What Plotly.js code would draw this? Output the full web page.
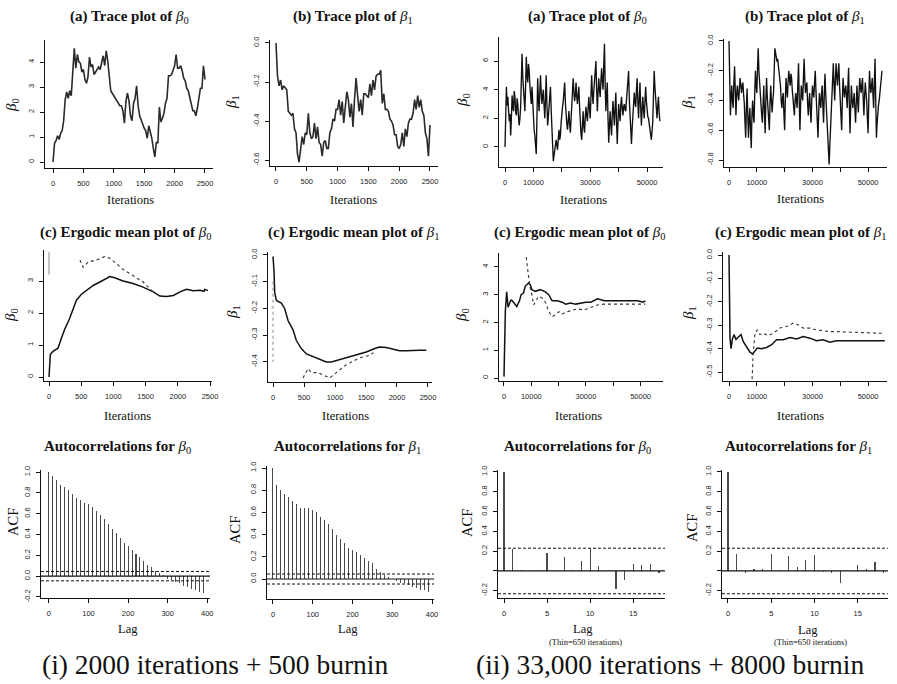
<!DOCTYPE html>
<html>
<head>
<meta charset="utf-8">
<script src="https://cdn.plot.ly/plotly-3.0.1.min.js"></script>
<style>
  html, body { margin: 0; padding: 0; background: #fff; }
  #chart { width: 897px; height: 684px; }
</style>
</head>
<body>
<div id="chart"></div>
<script>
// ---------------- MCMC output: run (i) 2000 iterations + 500 burn-in ----------------
const traceStepI = 25;   // iterations between stored draws
const beta0TraceI = [0.0,0.75,0.85,1.05,0.9,1.15,1.25,1.65,2.5,2.8,2.55,2.85,2.65,3.7,4.55,3.75,4.3,4.0,3.95,3.6,
  3.7,3.3,3.15,3.4,4.2,3.8,3.9,3.5,3.6,3.75,3.8,3.7,4.05,4.25,3.85,4.45,4.05,3.45,2.85,2.75,
  2.65,2.55,2.45,2.35,2.25,2.25,2.05,1.55,2.45,2.75,2.45,1.85,1.65,2.35,2.55,3.05,2.25,1.85,1.65,1.55,
  1.35,1.25,0.95,1.45,1.25,0.95,0.55,0.2,0.8,0.75,2.2,1.6,1.75,1.95,2.35,2.55,3.45,3.45,3.5,3.65,
  3.85,4.3,3.75,3.75,3.85,3.65,3.35,3.25,2.95,2.85,2.55,2.35,2.05,2.05,1.85,2.15,2.55,2.95,2.95,3.85,3.3];
const beta1TraceI = [0.0,-0.17,-0.22,-0.19,-0.24,-0.22,-0.23,-0.24,-0.35,-0.36,-0.37,-0.36,-0.44,-0.46,-0.57,-0.61,-0.54,-0.48,-0.52,-0.46,
  -0.47,-0.36,-0.46,-0.49,-0.48,-0.41,-0.49,-0.43,-0.51,-0.52,-0.58,-0.51,-0.5,-0.54,-0.54,-0.46,-0.44,-0.39,-0.4,-0.34,
  -0.34,-0.29,-0.37,-0.3,-0.41,-0.31,-0.25,-0.29,-0.38,-0.31,-0.43,-0.29,-0.18,-0.27,-0.35,-0.29,-0.37,-0.26,-0.26,-0.27,
  -0.28,-0.21,-0.27,-0.19,-0.24,-0.17,-0.16,-0.16,-0.14,-0.31,-0.26,-0.34,-0.34,-0.35,-0.39,-0.4,-0.42,-0.47,-0.47,-0.53,
  -0.54,-0.52,-0.46,-0.53,-0.44,-0.48,-0.41,-0.39,-0.39,-0.36,-0.29,-0.34,-0.27,-0.33,-0.29,-0.35,-0.37,-0.46,-0.49,-0.58,-0.42];

// ergodic (running) means, run (i)
const ergIterB0I = [0,20,60,140,190,245,320,375,425,500,580,685,790,890,945,1020,1150,1305,1460,1620,1720,1825,1930,2035,2135,2240,2345,2405,2420,2470];
const ergB0I     = [0,0.7,0.8,0.9,1.2,1.5,1.83,2.14,2.4,2.58,2.7,2.86,2.97,3.09,3.14,3.1,3.0,2.92,2.81,2.66,2.53,2.52,2.55,2.66,2.74,2.7,2.71,2.68,2.74,2.7];
const ergIterB0Ib = [480,530,605,685,790,865,945,1020,1150,1305,1460,1565,1620];
const ergB0Ib     = [3.66,3.43,3.59,3.64,3.69,3.77,3.71,3.59,3.36,3.17,2.97,2.76,2.66];
const ergStartB0I = [3.2,3.9];
const ergIterB1I = [0,16,27,54,134,188,242,323,376,457,538,645,753,860,941,1022,1183,1344,1505,1640,1720,1828,1935,2043,2150,2258,2366,2473];
const ergB1I     = [-0.006,-0.06,-0.14,-0.17,-0.18,-0.2,-0.245,-0.28,-0.32,-0.35,-0.37,-0.38,-0.39,-0.4,-0.4,-0.395,-0.385,-0.375,-0.363,-0.35,-0.344,-0.346,-0.353,-0.358,-0.358,-0.356,-0.356,-0.356];
const ergIterB1Ib = [484,565,618,726,914,1022,1183,1398,1559,1620];
const ergB1Ib     = [-0.46,-0.425,-0.44,-0.44,-0.46,-0.44,-0.41,-0.385,-0.375,-0.365];
const ergStartB1I = [-0.1,-0.4];

// autocorrelations, run (i)
const acfLagsI = [0,10,20,30,40,50,60,70,80,90,100,110,120,130,140,150,160,170,180,190,
  200,210,220,230,240,250,260,270,280,290,300,310,320,330,340,350,360,370,380,390];
const acfB0I = [1.0,0.96,0.92,0.88,0.86,0.83,0.79,0.75,0.73,0.7,0.69,0.66,0.63,0.59,0.55,0.5,0.45,0.41,0.37,0.32,
  0.29,0.25,0.21,0.18,0.15,0.11,0.09,0.05,0.03,0.01,-0.03,-0.04,-0.06,-0.07,-0.09,-0.1,-0.12,-0.13,-0.15,-0.16];
const acfB1I = [1.0,0.85,0.8,0.77,0.74,0.7,0.68,0.64,0.64,0.64,0.62,0.6,0.56,0.53,0.5,0.45,0.4,0.36,0.32,0.28,
  0.26,0.24,0.22,0.19,0.16,0.14,0.09,0.06,0.04,0.02,0.0,-0.02,-0.04,-0.04,-0.05,-0.07,-0.08,-0.1,-0.1,-0.12];
const ciI = 0.045;

// ---------------- MCMC output: run (ii) 33,000 iterations + 8000 burn-in ----------------
const traceStepII = 250;
const beta0TraceII = [0.0,2.6,4.2,2.9,3.5,2.6,1.8,2.3,0.8,2.0,3.6,2.8,2.5,3.9,3.5,2.4,2.2,3.4,3.0,2.1,
  1.5,2.0,2.8,4.6,6.5,4.9,4.0,3.1,2.5,4.2,6.3,5.0,4.5,5.8,5.4,4.3,3.5,3.0,4.2,2.9,
  1.8,1.2,0.8,0.3,-0.5,2.2,4.8,3.4,2.5,3.8,5.0,3.8,3.0,3.6,4.0,2.9,2.0,3.3,5.0,3.0,
  1.5,2.1,3.0,3.5,4.2,2.6,1.5,0.4,-1.0,-0.6,-0.3,0.2,0.5,0.1,-0.2,0.6,1.2,0.5,0.8,1.7,
  2.5,2.8,3.2,3.9,4.5,3.1,2.0,1.6,1.2,1.9,2.5,1.6,1.0,1.9,2.8,3.9,4.8,3.8,3.2,3.6,
  4.5,3.5,3.0,3.7,4.2,2.8,1.5,0.9,0.5,1.6,2.5,1.4,1.0,2.1,2.8,2.2,1.8,2.7,3.5,2.6,
  2.0,3.6,5.0,3.7,3.0,3.9,4.5,5.1,6.0,4.0,2.5,3.8,4.8,4.0,3.5,4.6,5.5,4.6,4.0,5.7,
  7.2,4.3,2.5,3.6,4.5,2.0,0.3,1.5,2.5,1.5,0.8,2.2,3.2,2.3,1.5,2.8,3.8,1.8,0.2,1.7,
  3.0,2.3,1.8,2.9,3.5,2.7,2.2,2.8,3.0,2.6,2.5,3.3,4.2,4.8,5.3,3.3,2.0,0.9,0.2,1.3,
  2.5,3.3,3.8,3.1,2.8,3.9,4.8,3.2,2.0,3.3,4.5,2.8,1.5,2.6,3.5,2.6,2.0,3.2,4.2,3.2,
  2.5,2.1,2.0,1.5,1.2,0.7,0.5,1.1,1.8,3.6,5.3,4.2,3.5,2.6,2.0,2.9,3.5,2.4,1.8];
const beta1TraceII = [0.0,-0.35,-0.5,-0.38,-0.3,-0.41,-0.45,-0.28,-0.17,-0.33,-0.5,-0.36,-0.3,-0.36,-0.4,-0.31,-0.25,-0.3,-0.35,-0.3,
  -0.28,-0.36,-0.42,-0.55,-0.65,-0.45,-0.32,-0.5,-0.65,-0.52,-0.45,-0.6,-0.72,-0.5,-0.4,-0.5,-0.55,-0.35,-0.2,-0.3,
  -0.35,-0.18,-0.05,-0.2,-0.3,-0.4,-0.45,-0.5,-0.55,-0.38,-0.3,-0.48,-0.62,-0.4,-0.25,-0.37,-0.45,-0.55,-0.6,-0.42,
  -0.3,-0.4,-0.48,-0.4,-0.35,-0.2,-0.05,-0.08,-0.1,-0.14,-0.12,-0.16,-0.2,-0.27,-0.3,-0.4,-0.45,-0.38,-0.35,-0.5,
  -0.6,-0.4,-0.25,-0.33,-0.38,-0.27,-0.2,-0.26,-0.3,-0.22,-0.25,-0.33,-0.4,-0.46,-0.5,-0.4,-0.35,-0.41,-0.45,-0.28,
  -0.15,-0.4,-0.6,-0.42,-0.3,-0.36,-0.4,-0.25,-0.12,-0.26,-0.35,-0.3,-0.28,-0.42,-0.5,-0.41,-0.35,-0.47,-0.55,-0.4,
  -0.3,-0.35,-0.38,-0.28,-0.2,-0.33,-0.45,-0.56,-0.65,-0.48,-0.35,-0.41,-0.45,-0.36,-0.3,-0.44,-0.55,-0.36,-0.22,-0.35,
  -0.45,-0.5,-0.55,-0.7,-0.83,-0.7,-0.6,-0.43,-0.3,-0.2,-0.15,-0.3,-0.4,-0.26,-0.15,-0.24,-0.3,-0.21,-0.15,-0.3,
  -0.45,-0.52,-0.6,-0.4,-0.25,-0.32,-0.38,-0.33,-0.3,-0.38,-0.45,-0.3,-0.18,-0.42,-0.62,-0.45,-0.3,-0.39,-0.45,-0.4,
  -0.35,-0.46,-0.55,-0.42,-0.3,-0.4,-0.48,-0.35,-0.25,-0.31,-0.35,-0.29,-0.25,-0.39,-0.5,-0.37,-0.28,-0.35,-0.4,-0.52,
  -0.62,-0.4,-0.2,-0.29,-0.35,-0.3,-0.25,-0.36,-0.45,-0.28,-0.12,-0.4,-0.65,-0.55,-0.45,-0.43,-0.4,-0.35,-0.3,-0.25,-0.2];

const ergIterB0II = [0,500,985,1500,2500,2830,3700,4680,5670,6280,7140,7760,8990,9600,10220,11450,13300,15150,16380,17610,
  19460,21300,22540,24380,26230,28080,29930,31770,34240,36700,39160,41630,44090,46550,49010,50860,51720];
const ergB0II = [0.05,2.4,3.1,2.55,2.8,2.8,2.7,2.57,2.78,3.0,3.06,3.3,3.42,3.36,3.18,3.12,3.18,3.1,3.0,2.78,
  2.78,2.73,2.66,2.7,2.66,2.7,2.73,2.73,2.85,2.78,2.78,2.78,2.78,2.76,2.78,2.73,2.78];
const ergIterB0IIb = [8130,8370,8620,8990,9600,10220,10840,11820,12680,13920,15150,16380,17610,18840,20070,21310,22540,24380,
  26850,29310,31770,34240,36700,39160,41630,45320,49010,51720];
const ergB0IIb = [4.35,4.1,4.08,3.66,3.24,3.0,2.63,2.82,2.94,2.88,2.73,2.39,2.21,2.27,2.39,2.3,2.37,2.42,
  2.49,2.45,2.54,2.63,2.66,2.66,2.66,2.66,2.66,2.66];
const ergIterB1II = [0,360,720,1200,1790,2510,3350,4310,5140,6340,7540,8490,9330,10170,11720,13520,15310,17110,19500,21890,
  24280,26670,29070,31460,33850,36240,38640,41030,43420,45810,48210,50600,52990,55980];
const ergB1II = [0.0,-0.355,-0.4,-0.36,-0.34,-0.36,-0.35,-0.34,-0.37,-0.39,-0.415,-0.423,-0.41,-0.397,-0.4,-0.395,-0.383,-0.362,-0.362,-0.352,
  -0.358,-0.348,-0.355,-0.366,-0.362,-0.372,-0.366,-0.366,-0.366,-0.366,-0.366,-0.366,-0.366,-0.366];
const ergIterB1IIb = [8300,8700,9330,10170,11120,12320,14110,15900,18300,20700,23100,24900,26670,29070,31460,33850,36240,38640,43420,48210,54200,55980];
const ergB1IIb = [-0.53,-0.42,-0.334,-0.32,-0.34,-0.334,-0.344,-0.334,-0.312,-0.305,-0.291,-0.298,-0.312,-0.312,-0.32,-0.324,-0.327,-0.327,-0.33,-0.331,-0.334,-0.334];

const acfLagsII = [0,1,2,3,4,5,6,7,8,9,10,11,12,13,14,15,16,17,18];
const acfB0II = [1.0,0.22,0.005,-0.005,0.005,0.18,0.002,0.14,0.005,0.1,0.225,0.05,-0.005,-0.18,-0.09,0.07,0.06,0.07,-0.02];
const acfB1II = [1.0,0.175,-0.025,0.015,0.015,0.175,0.005,0.15,0.045,0.11,0.165,-0.01,-0.02,-0.12,0.0,0.065,0.015,0.09,-0.02];
const ciII = 0.23;

// ---------------- tick labels ----------------
const itTicksI = [0,500,1000,1500,2000,2500];
const itLabelsI = ['0','500','1000','1500','2000','2500'];
const itTicksII = [0,10000,20000,30000,40000,50000];
const itLabelsII = ['0','10000','','30000','','50000'];
const lagTicksI = [0,100,200,300,400];
const lagLabelsI = ['0','100','200','300','400'];
const lagTicksII = [0,5,10,15];
const lagLabelsII = ['0','5','10','15'];
const yTicks = {
  p1: [[0,1,2,3,4], ['0','1','2','3','4']],
  p2: [[0,-0.2,-0.4,-0.6], ['0.0','-0.2','-0.4','-0.6']],
  p3: [[0,2,4,6], ['0','2','4','6']],
  p4: [[0,-0.2,-0.4,-0.6,-0.8], ['0.0','-0.2','-0.4','-0.6','-0.8']],
  p5: [[0,1,2,3], ['0','1','2','3']],
  p6: [[0,-0.1,-0.2,-0.3,-0.4], ['0.0','-0.1','-0.2','-0.3','-0.4']],
  p7: [[0,1,2,3,4], ['0','1','2','3','4']],
  p8: [[0,-0.1,-0.2,-0.3,-0.4,-0.5], ['0.0','-0.1','-0.2','-0.3','-0.4','-0.5']],
  p9: [[-0.2,0,0.2,0.4,0.6,0.8,1.0], ['-0.2','0.0','0.2','0.4','0.6','0.8','1.0']],
  p11: [[-0.2,0,0.2,0.4,0.6,0.8,1.0], ['-0.2','','0.2','0.4','0.6','0.8','1.0']]
};

// ---------------- layout helpers ----------------
const W = 897, H = 684;
const fx = px => px / W;
const fy = px => 1 - px / H;
const tickFont = { family: '"Liberation Sans", Arial, sans-serif', size: 7.5, color: '#222' };

// panel boxes in page pixels: [left, right], [top, bottom]; axis ranges
const panels = [
  { bx: [45,213],  by: [40,168],  xr: [-132,2632],  yr: [-0.24,4.88],   xt: [itTicksI,itLabelsI],   yt: yTicks.p1 },
  { bx: [270,438], by: [40,166],  xr: [-97,2630],   yr: [-0.63,0.015],  xt: [itTicksI,itLabelsI],   yt: yTicks.p2 },
  { bx: [499,663], by: [37,167],  xr: [-2110,55600],yr: [-1.4,7.68],    xt: [itTicksII,itLabelsII], yt: yTicks.p3 },
  { bx: [724,887], by: [39,167],  xr: [-1800,56800],yr: [-0.847,0.013], xt: [itTicksII,itLabelsII], yt: yTicks.p4 },
  { bx: [44,212],  by: [250,381], xr: [-78,2531],   yr: [-0.125,3.97],  xt: [itTicksI,itLabelsI],   yt: yTicks.p5 },
  { bx: [268,432], by: [252,382], xr: [-81,2565],   yr: [-0.475,0.011], xt: [itTicksI,itLabelsI],   yt: yTicks.p6 },
  { bx: [499,663], by: [253,381], xr: [-1825,58200],yr: [-0.108,4.5],   xt: [itTicksII,itLabelsII], yt: yTicks.p7 },
  { bx: [723,887], by: [252,381], xr: [-2160,56800],yr: [-0.538,0.013], xt: [itTicksII,itLabelsII], yt: yTicks.p8 },
  { bx: [41,210],  by: [470,598], xr: [-20,407],    yr: [-0.21,1.02],   xt: [lagTicksI,lagLabelsI], yt: yTicks.p9 },
  { bx: [267,434], by: [466,599], xr: [-15,405],    yr: [-0.18,1.018],  xt: [lagTicksI,lagLabelsI], yt: yTicks.p9 },
  { bx: [498,665], by: [470,598], xr: [-0.7,18.7],  yr: [-0.273,1.02],  xt: [lagTicksII,lagLabelsII], yt: yTicks.p11 },
  { bx: [722,888], by: [470,598], xr: [-0.69,18.5], yr: [-0.273,1.02],  xt: [lagTicksII,lagLabelsII], yt: yTicks.p11 }
];

const layout = {
  width: W, height: H,
  margin: { l: 0, r: 0, t: 0, b: 0, pad: 0 },
  paper_bgcolor: '#fff', plot_bgcolor: '#fff',
  showlegend: false,
  bargap: 0,
  annotations: [],
  shapes: []
};

panels.forEach((p, i) => {
  const n = i + 1;
  const common = {
    showline: true, linecolor: '#111', linewidth: 1,
    ticks: 'outside', ticklen: 4, tickwidth: 1, tickcolor: '#111',
    showgrid: false, zeroline: false, tickfont: tickFont, fixedrange: true
  };
  layout['xaxis' + n] = Object.assign({}, common, {
    domain: [fx(p.bx[0]), fx(p.bx[1])], range: p.xr, anchor: 'y' + n,
    tickmode: 'array', tickvals: p.xt[0], ticktext: p.xt[1], ticklabelstandoff: 4
  });
  layout['yaxis' + n] = Object.assign({}, common, {
    domain: [fy(p.by[1]), fy(p.by[0])], range: p.yr, anchor: 'x' + n,
    tickmode: 'array', tickvals: p.yt[0], ticktext: p.yt[1], tickangle: -90, ticklabelstandoff: 3
  });
});

const data = [];
const line = (xs, ys, n, opts) => data.push(Object.assign({
  type: 'scatter', mode: 'lines', x: xs, y: ys, xaxis: 'x' + n, yaxis: 'y' + n,
  line: { color: '#111', width: 1 }, hoverinfo: 'skip'
}, opts || {}));
const iters = (arr, step) => arr.map((_, k) => k * step);

// row 1: trace plots
line(iters(beta0TraceI, traceStepI), beta0TraceI, 1, { line: { color: '#2a2a2a', width: 1.6 } });
line(iters(beta1TraceI, traceStepI), beta1TraceI, 2, { line: { color: '#2a2a2a', width: 1.6 } });
line(iters(beta0TraceII, traceStepII), beta0TraceII, 3, { line: { color: '#111', width: 1.35 } });
line(iters(beta1TraceII, traceStepII), beta1TraceII, 4, { line: { color: '#111', width: 1.35 } });

// row 2: ergodic means
const dotted = { line: { color: '#333', width: 1.1, dash: 'dot' } };
const solid = { line: { color: '#111', width: 1.5 } };
line(ergIterB0I, ergB0I, 5, solid);
line(ergIterB0Ib, ergB0Ib, 5, dotted);
line([0, 0], ergStartB0I, 5, { line: { color: '#888', width: 1 } });
line(ergIterB1I, ergB1I, 6, solid);
line(ergIterB1Ib, ergB1Ib, 6, dotted);
line([0, 0], ergStartB1I, 6, { line: { color: '#888', width: 1, dash: 'dot' } });
line(ergIterB0II, ergB0II, 7, solid);
line(ergIterB0IIb, ergB0IIb, 7, dotted);
line(ergIterB1II, ergB1II, 8, solid);
line(ergIterB1IIb, ergB1IIb, 8, dotted);

// row 3: autocorrelation bars with confidence bands
const acfPanels = [
  { n: 9,  lags: acfLagsI,  vals: acfB0I,  ci: ciI,  w: 2.6 },
  { n: 10, lags: acfLagsI,  vals: acfB1I,  ci: ciI,  w: 2.6 },
  { n: 11, lags: acfLagsII, vals: acfB0II, ci: ciII, w: 0.14 },
  { n: 12, lags: acfLagsII, vals: acfB1II, ci: ciII, w: 0.14 }
];
acfPanels.forEach(a => {
  data.push({
    type: 'bar', x: a.lags, y: a.vals, width: a.w, xaxis: 'x' + a.n, yaxis: 'y' + a.n,
    marker: { color: '#4a4a4a', line: { width: 0 } }, hoverinfo: 'skip'
  });
  layout.shapes.push({ type: 'line', xref: 'x' + a.n + ' domain', yref: 'y' + a.n,
    x0: 0, x1: 1, y0: 0, y1: 0, line: { color: '#111', width: 1.2 } });
  [a.ci, -a.ci].forEach(c => layout.shapes.push({ type: 'line', xref: 'x' + a.n + ' domain', yref: 'y' + a.n,
    x0: 0, x1: 1, y0: c, y1: c, line: { color: '#111', width: 1, dash: '3px,2px' } }));
});

// ---------------- text ----------------
const serif = '"Liberation Serif", "Times New Roman", serif';
const addText = (text, x, y, size, extra) => layout.annotations.push(Object.assign({
  text: text, x: fx(x), y: fy(y), xref: 'paper', yref: 'paper', showarrow: false,
  xanchor: 'center', yanchor: 'middle', font: { family: serif, size: size, color: '#111' }
}, extra || {}));

const b0 = '<i>β</i><sub>0</sub>', b1 = '<i>β</i><sub>1</sub>';
const titles = [
  ['<b>(a) Trace plot of </b>' + b0, 129, 17], ['<b>(b) Trace plot of </b>' + b1, 353, 17],
  ['<b>(a) Trace plot of </b>' + b0, 587, 17], ['<b>(b) Trace plot of </b>' + b1, 805, 17],
  ['<b>(c) Ergodic mean plot of </b>' + b0, 125, 233], ['<b>(c) Ergodic mean plot of </b>' + b1, 353, 233],
  ['<b>(c) Ergodic mean plot of </b>' + b0, 579, 233], ['<b>(c) Ergodic mean plot of </b>' + b1, 800, 233],
  ['<b>Autocorrelations for </b>' + b0, 117, 447], ['<b>Autocorrelations for </b>' + b1, 347, 447],
  ['<b>Autocorrelations for </b>' + b0, 577, 447], ['<b>Autocorrelations for </b>' + b1, 798, 447]
];
titles.forEach(t => addText(t[0], t[1], t[2], 15));

const xLabels = [
  ['Iterations', 130, 200], ['Iterations', 353, 200], ['Iterations', 583, 200], ['Iterations', 800, 199],
  ['Iterations', 127, 416], ['Iterations', 345, 416], ['Iterations', 578, 416], ['Iterations', 800, 416],
  ['Lag', 128, 629], ['Lag', 348, 629], ['Lag', 583, 629], ['Lag', 808, 630]
];
xLabels.forEach(t => addText(t[0], t[1], t[2], 12.5));
addText('(Thin=650 iterations)', 585, 642, 8.5);
addText('(Thin=650 iterations)', 810, 642, 8.5);

const yLabels = [
  [b0, 12, 105], [b1, 232, 102], [b0, 463, 100], [b1, 688, 102],
  [b0, 11, 315], [b1, 233, 312], [b0, 462, 315], [b1, 689, 313]
];
yLabels.forEach(t => addText(t[0], t[1], t[2], 15, { textangle: -90 }));
[['ACF', 13, 522], ['ACF', 235, 530], ['ACF', 467, 523], ['ACF', 692, 528]]
  .forEach(t => addText(t[0], t[1], t[2], 14.5, { textangle: -90 }));

addText('(i) 2000 iterations + 500 burnin', 215, 664, 27.5);
addText('(ii) 33,000 iterations + 8000 burnin', 670, 664, 27.5);

Plotly.newPlot('chart', data, layout, { staticPlot: true, displayModeBar: false });
</script>
</body>
</html>
